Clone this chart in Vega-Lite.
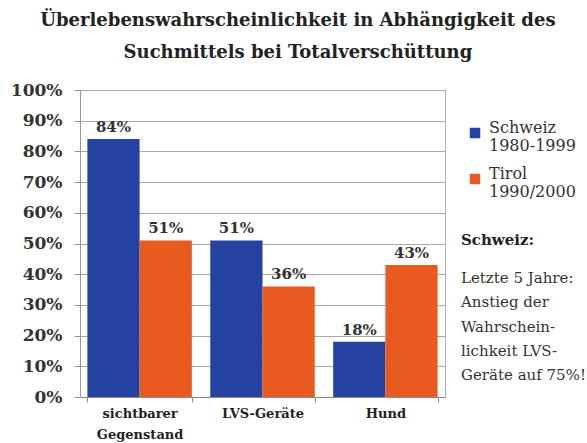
{
  "$schema": "https://vega.github.io/schema/vega-lite/v6.json",
  "padding": {"left": 9, "top": 11, "right": 0, "bottom": 0},
  "background": "white",
  "config": {"font": "DejaVu Serif"},
  "title": {
    "text": ["Überlebenswahrscheinlichkeit in Abhängigkeit des", "Suchmittels bei Totalverschüttung"],
    "font": "DejaVu Serif",
    "fontSize": 18,
    "fontWeight": "bold",
    "color": "#222222",
    "lineHeight": 32,
    "anchor": "middle",
    "offset": 19
  },
  "spacing": 15,
  "hconcat": [
    {
      "width": 365,
      "height": 307,
      "view": {"stroke": "#b0b0b0"},
      "data": {
        "values": [
          {"Suchmittel": "sichtbarer Gegenstand", "Serie": "Schweiz 1980-1999", "Wert": 0.84},
          {"Suchmittel": "sichtbarer Gegenstand", "Serie": "Tirol 1990/2000", "Wert": 0.51},
          {"Suchmittel": "LVS-Geräte", "Serie": "Schweiz 1980-1999", "Wert": 0.51},
          {"Suchmittel": "LVS-Geräte", "Serie": "Tirol 1990/2000", "Wert": 0.36},
          {"Suchmittel": "Hund", "Serie": "Schweiz 1980-1999", "Wert": 0.18},
          {"Suchmittel": "Hund", "Serie": "Tirol 1990/2000", "Wert": 0.43}
        ]
      },
      "encoding": {
        "x": {
          "field": "Suchmittel",
          "type": "nominal",
          "sort": ["sichtbarer Gegenstand", "LVS-Geräte", "Hund"],
          "scale": {"paddingInner": 0.15, "paddingOuter": 0.06},
          "axis": {
            "title": null,
            "labelAngle": 0,
            "labelExpr": "split(datum.label, ' ')",
            "labelFont": "DejaVu Serif",
            "labelFontWeight": "bold",
            "labelFontSize": 13,
            "labelColor": "#222222",
            "labelPadding": 5,
            "labelLineHeight": 21,
            "domainColor": "#888888",
            "tickColor": "#888888",
            "tickBand": "extent",
            "tickSize": 5
          }
        },
        "y": {
          "field": "Wert",
          "type": "quantitative",
          "scale": {"domain": [0, 1]},
          "axis": {
            "title": null,
            "format": ".0%",
            "values": [0, 0.1, 0.2, 0.3, 0.4, 0.5, 0.6, 0.7, 0.8, 0.9, 1],
            "labelFont": "DejaVu Serif",
            "labelFontWeight": "bold",
            "labelFontSize": 17,
            "labelColor": "#333333",
            "labelPadding": 12,
            "tickSize": 6,
            "tickColor": "#999999",
            "domainColor": "#999999",
            "gridColor": "#a8a8a8",
            "gridWidth": 1.2
          }
        }
      },
      "layer": [
        {
          "mark": {"type": "bar"},
          "encoding": {
            "xOffset": {"field": "Serie", "type": "nominal"},
            "color": {
              "field": "Serie",
              "type": "nominal",
              "scale": {"range": ["#2443A0", "#E85A20"]},
              "legend": {
                "title": null,
                "orient": "none",
                "legendX": 387,
                "legendY": 35,
                "labelExpr": "split(datum.label, ' ')",
                "labelFont": "DejaVu Serif",
                "labelFontSize": 16,
                "labelLineHeight": 19,
                "labelBaseline": "alphabetic",
                "labelColor": "#333333",
                "labelOffset": 6,
                "symbolType": "square",
                "symbolSize": 110,
                "symbolStrokeWidth": 0,
                "rowPadding": 12
              }
            }
          }
        },
        {
          "mark": {"type": "text", "baseline": "bottom", "dy": -4, "font": "DejaVu Serif", "fontWeight": "bold", "fontSize": 15, "color": "#333333"},
          "encoding": {
            "xOffset": {"field": "Serie", "type": "nominal"},
            "text": {"field": "Wert", "type": "quantitative", "format": ".0%"}
          }
        }
      ]
    },
    {
      "width": 120,
      "height": 307,
      "view": {"stroke": null},
      "data": {
        "values": [
          {"Zeile": 0, "Art": "Kopf", "Text": "Schweiz:"},
          {"Zeile": 1, "Art": "Text", "Text": "Letzte 5 Jahre:"},
          {"Zeile": 2, "Art": "Text", "Text": "Anstieg der"},
          {"Zeile": 3, "Art": "Text", "Text": "Wahrschein-"},
          {"Zeile": 4, "Art": "Text", "Text": "lichkeit LVS-"},
          {"Zeile": 5, "Art": "Text", "Text": "Geräte auf 75%!"}
        ]
      },
      "encoding": {
        "y": {"field": "Zeile", "type": "quantitative", "scale": {"domain": [-6.75, 5.9], "reverse": true}, "axis": null},
        "x": {"datum": 0, "type": "quantitative", "scale": {"domain": [0, 1]}, "axis": null},
        "text": {"field": "Text", "type": "nominal"}
      },
      "layer": [
        {
          "transform": [{"filter": "datum.Art == 'Kopf'"}],
          "mark": {"type": "text", "align": "left", "dy": -14, "font": "DejaVu Serif", "fontWeight": "bold", "fontSize": 15, "color": "#222222"}
        },
        {
          "transform": [{"filter": "datum.Art == 'Text'"}],
          "mark": {"type": "text", "align": "left", "font": "DejaVu Serif", "fontSize": 15, "color": "#333333"}
        }
      ]
    }
  ]
}
